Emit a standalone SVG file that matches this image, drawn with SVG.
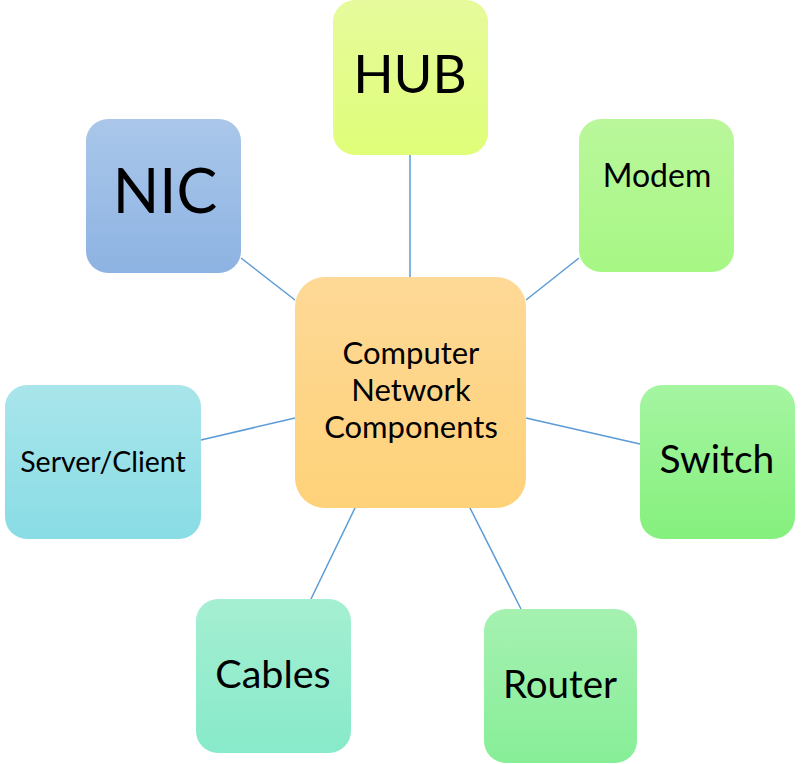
<svg xmlns="http://www.w3.org/2000/svg" width="803" height="764" viewBox="0 0 803 764">
<defs>
<linearGradient id="gNic" x1="0" y1="0" x2="0" y2="1"><stop offset="0" stop-color="#AAC7EA"/><stop offset="1" stop-color="#8DB3E2"/></linearGradient>
<linearGradient id="gHub" x1="0" y1="0" x2="0" y2="1"><stop offset="0" stop-color="#E6FA9C"/><stop offset="1" stop-color="#E0FE78"/></linearGradient>
<linearGradient id="gModem" x1="0" y1="0" x2="0" y2="1"><stop offset="0" stop-color="#BAF79B"/><stop offset="1" stop-color="#A7F785"/></linearGradient>
<linearGradient id="gServer" x1="0" y1="0" x2="0" y2="1"><stop offset="0" stop-color="#A9E5EB"/><stop offset="1" stop-color="#89DCE5"/></linearGradient>
<linearGradient id="gSwitch" x1="0" y1="0" x2="0" y2="1"><stop offset="0" stop-color="#A5F5A1"/><stop offset="1" stop-color="#85F07D"/></linearGradient>
<linearGradient id="gCables" x1="0" y1="0" x2="0" y2="1"><stop offset="0" stop-color="#A5EFD2"/><stop offset="1" stop-color="#87EACA"/></linearGradient>
<linearGradient id="gRouter" x1="0" y1="0" x2="0" y2="1"><stop offset="0" stop-color="#A5F1B1"/><stop offset="1" stop-color="#87EE97"/></linearGradient>
<linearGradient id="gCenter" x1="0" y1="0" x2="0" y2="1"><stop offset="0" stop-color="#FED997"/><stop offset="1" stop-color="#FED279"/></linearGradient>
</defs>
<style>
text{font-family:Lato,"Open Sans","Liberation Sans",sans-serif;fill:#000;text-anchor:middle}
.c line{stroke:#5B9BD5;stroke-width:1.5}
</style>
<rect width="803" height="764" fill="#fff"/>
<g class="c" id="connectors">
<line x1="241" y1="258" x2="295" y2="300"/>
<line x1="410" y1="155" x2="410" y2="277"/>
<line x1="579" y1="258" x2="526" y2="300"/>
<line x1="201" y1="440" x2="295" y2="418"/>
<line x1="526" y1="418" x2="640" y2="444"/>
<line x1="355" y1="508" x2="311" y2="599"/>
<line x1="470" y1="508" x2="521" y2="609"/>
</g>
<g id="nic"><rect x="86" y="119" width="155" height="154" rx="22" fill="url(#gNic)"/><text x="165" y="213" font-size="61">NIC</text></g>
<g id="hub"><rect x="333" y="0" width="155" height="155" rx="22" fill="url(#gHub)"/><text x="410" y="93" font-size="53">HUB</text></g>
<g id="modem"><rect x="579" y="119" width="155" height="153" rx="22" fill="url(#gModem)"/><text x="657" y="187" font-size="32">Modem</text></g>
<g id="center"><rect x="295" y="277" width="231" height="231" rx="30" fill="url(#gCenter)"/>
<text x="411" y="364" font-size="31">Computer</text><text x="411" y="401" font-size="31">Network</text><text x="411" y="438" font-size="31">Components</text></g>
<g id="server"><rect x="5" y="385" width="196" height="154" rx="22" fill="url(#gServer)"/><text x="103" y="472" font-size="28.5">Server/Client</text></g>
<g id="switch"><rect x="640" y="385" width="155" height="154" rx="22" fill="url(#gSwitch)"/><text x="717" y="473" font-size="39">Switch</text></g>
<g id="cables"><rect x="196" y="599" width="155" height="154" rx="22" fill="url(#gCables)"/><text x="273" y="688" font-size="39.5">Cables</text></g>
<g id="router"><rect x="484" y="609" width="153" height="154" rx="22" fill="url(#gRouter)"/><text x="560" y="698" font-size="38.5">Router</text></g>
</svg>
